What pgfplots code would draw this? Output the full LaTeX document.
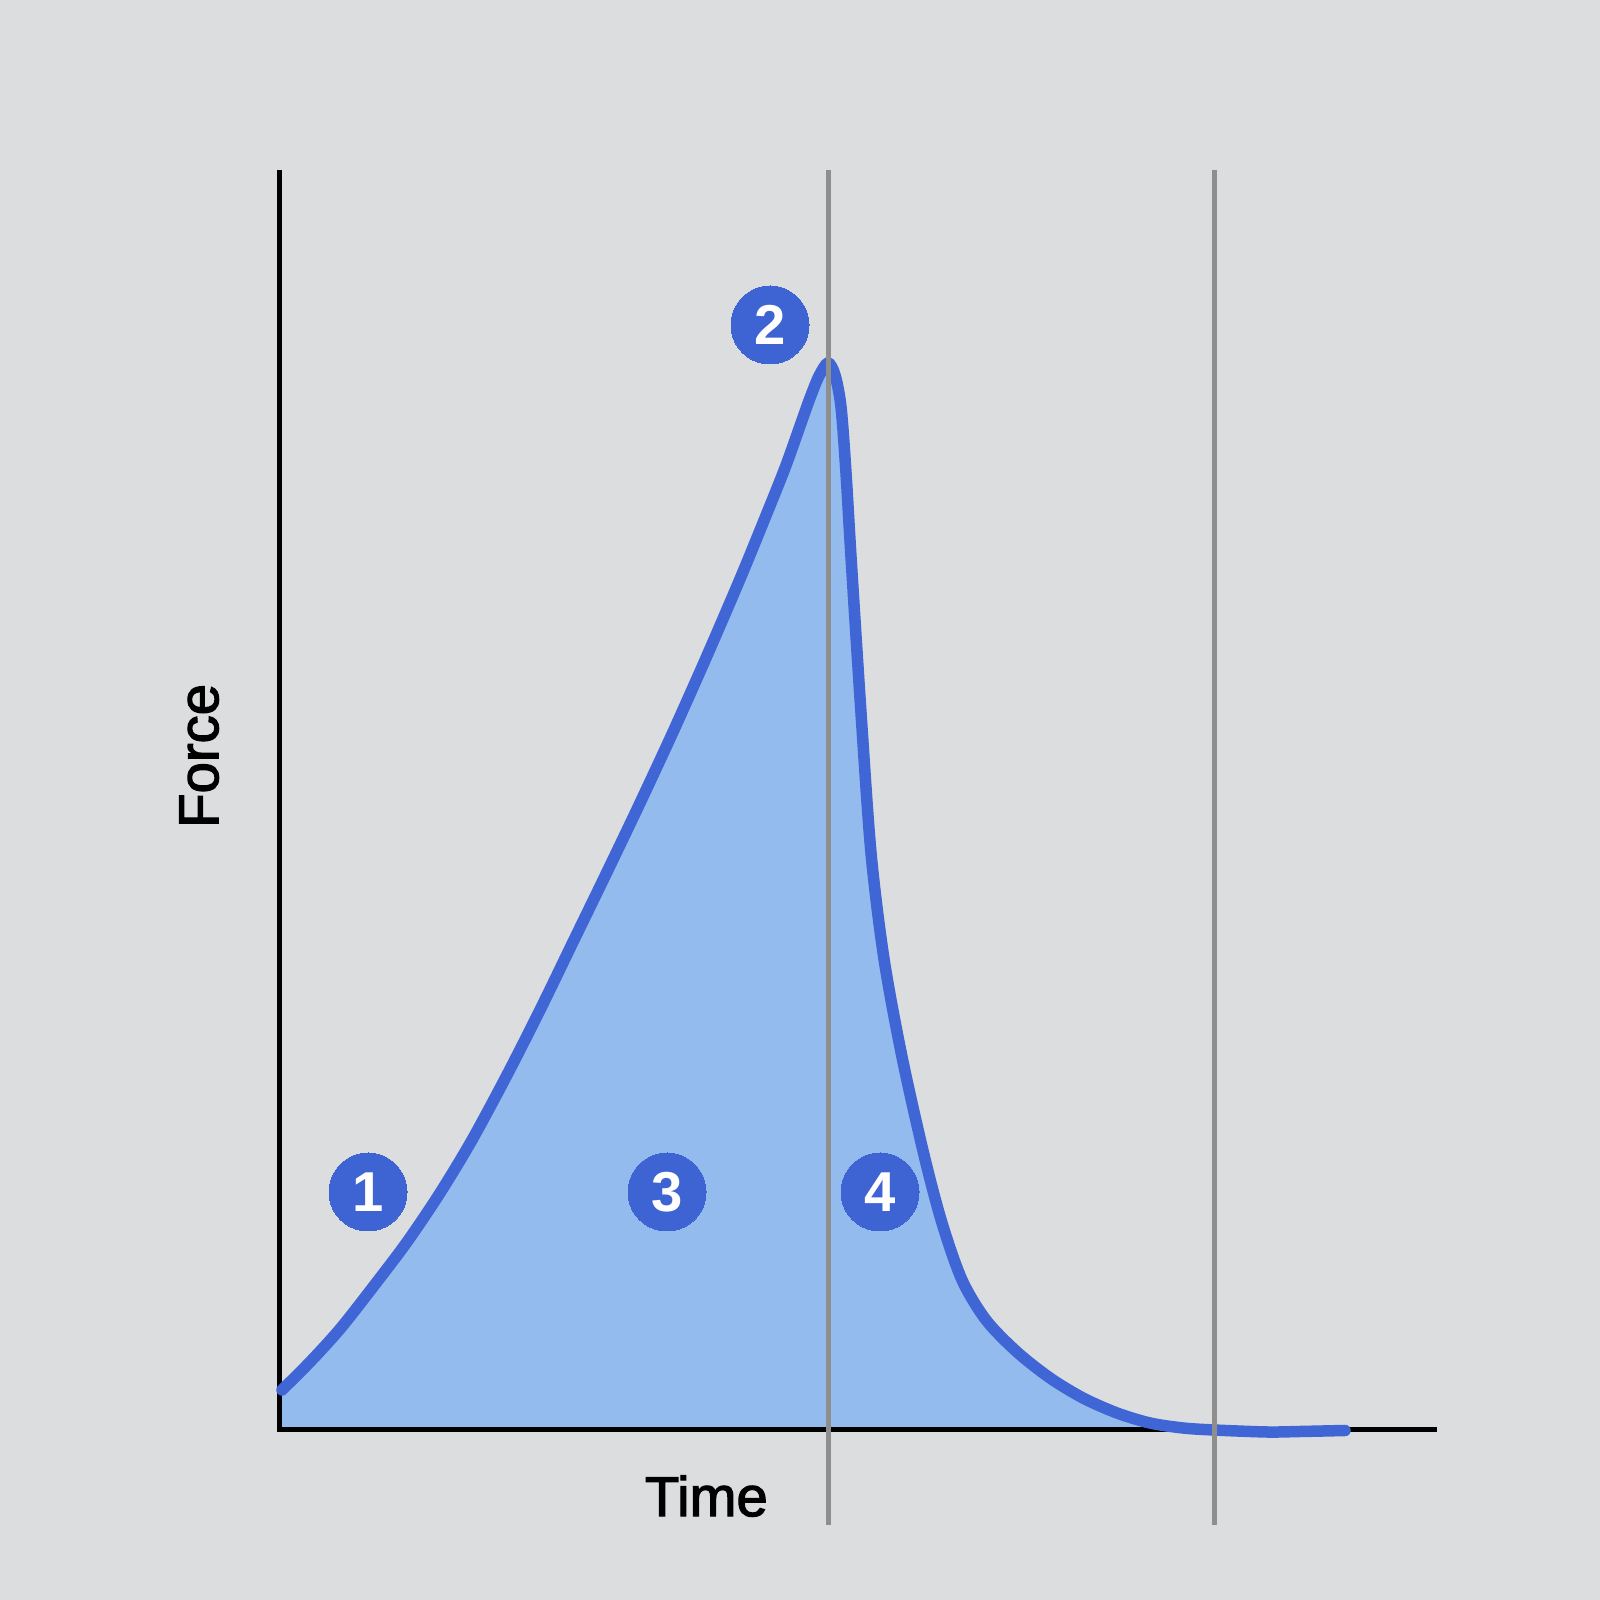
\documentclass[border=0pt]{standalone}
\usepackage{fontspec}
\setmainfont{Liberation Sans}
\usepackage{pgfplots}
\usepackage{pgfplotstable}
\pgfplotsset{compat=1.18}
\definecolor{bg}{HTML}{DCDDDF}
\definecolor{area}{HTML}{94BBEE}
\definecolor{curve}{HTML}{3F66D4}
\definecolor{marker}{HTML}{3E63D2}
\definecolor{vline}{HTML}{8E8E8E}
% slightly heavier label text: fill and stroke the glyphs
\newcommand{\medtext}[1]{\special{pdf:code q 2 Tr 0.35 w}#1\special{pdf:code Q}}
% x and y in reference pixels, y measured up from the time axis
\pgfplotstableread{
x y
282 40
310 68
340 101
373 143
407 188
440 237
472 290
507 355
540 420
573 488
607 558
640 627
673 698
706 772
740 851
765 912
785 962
800 1004
810 1032
819 1054
828 1067
835 1055
841 1023
846 957
851 873
861 717
871 577
884 471
902 373
924 275
942 207
962 150
986 110
1017 78
1050 52
1083 32
1117 17
1150 7
1183 2
1214 0
1267 -2
1300 -1.5
1345 -0.5
}\forcecurve
\pgfplotstableread{
x y label
368 238 1
770 1105 2
667 238 3
880 238 4
}\steps
\begin{document}
\begin{tikzpicture}
\useasboundingbox (0,0) rectangle (16cm,16cm);
\fill[bg] (0,0) rectangle (16cm,16cm);
\begin{axis}[
  at={(2.79cm,1.70cm)},
  anchor=origin,
  scale only axis,
  width=11.58cm,
  height=12.60cm,
  xmin=279, xmax=1437,
  ymin=0, ymax=1260,
  axis lines=left,
  axis line style={-, line width=0.05cm, black},
  ticks=none,
  clip=false,
  xlabel={\medtext{Time}},
  ylabel={\medtext{Force}},
  label style={font=\fontsize{16}{18}\selectfont},
  xlabel style={at={(axis description cs:0.369,-0.0524)}, anchor=center},
  ylabel style={at={(axis description cs:-0.069,0.535)}, anchor=center},
]
% filled impulse area
\addplot[draw=none, fill=area, smooth] table[x=x,y=y] {\forcecurve} \closedcycle;
% axes again, above the fill
\addplot[black, line width=0.05cm] coordinates {(279,1260) (279,0) (1437,0)};
% force curve
\addplot[curve, line width=0.115cm, line cap=round, smooth] table[x=x,y=y] {\forcecurve};
% peak and end of contact
\addplot[vline, line width=0.05cm] coordinates {(828.5,1260) (828.5,-95)};
\addplot[vline, line width=0.05cm] coordinates {(1214.5,1260) (1214.5,-95)};
% numbered markers
\addplot[
  only marks,
  mark=*,
  mark size=0.39cm,
  mark options={draw=marker, fill=marker, line width=0pt},
  point meta=explicit symbolic,
  nodes near coords,
  nodes near coords style={anchor=center, text=white, font=\bfseries\fontsize{16}{18}\selectfont},
] table[x=x,y=y,meta=label] {\steps};
\end{axis}
\end{tikzpicture}
\end{document}
